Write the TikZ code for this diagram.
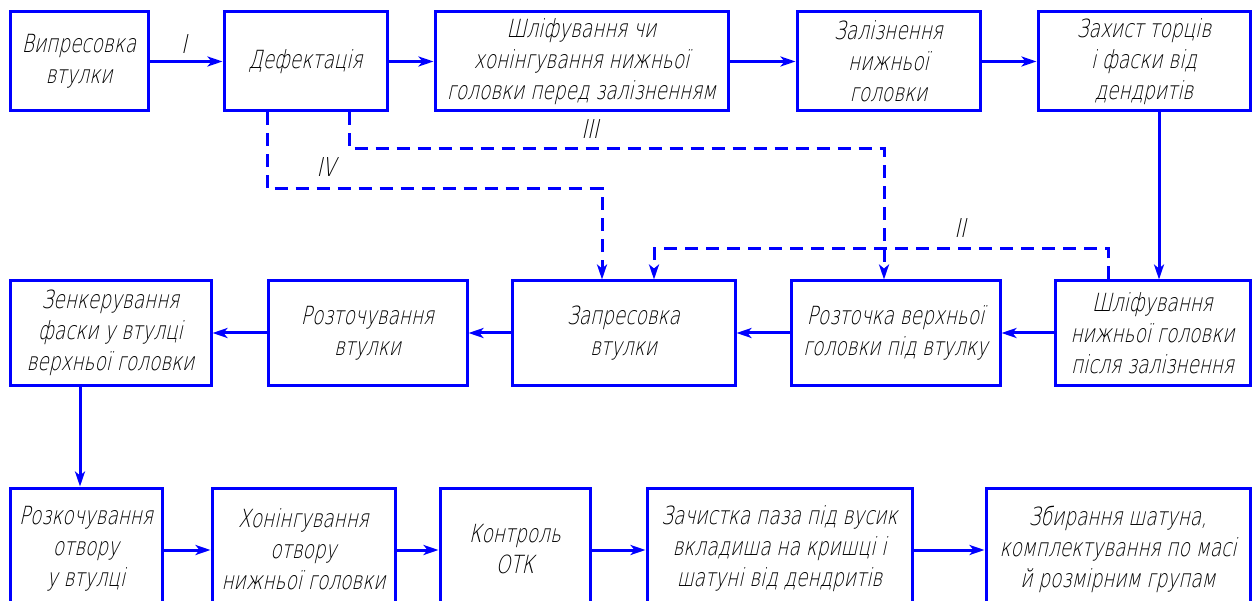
\documentclass[tikz,border=0pt]{standalone}
\usepackage{fontspec}
\setmainfont{DejaVu Sans ExtraLight}[FakeSlant=0.22,FakeStretch=0.74]
\usetikzlibrary{arrows.meta}
\definecolor{lineblue}{RGB}{0,0,255}
\tikzset{
  box/.style={draw=lineblue, line width=3pt, align=center, inner sep=0pt,
              font=\fontsize{25}{31}\selectfont, text=black},
  flow/.style={draw=lineblue, line width=3pt,
               -{Stealth[length=15pt,width=10pt,inset=4pt]}},
  alt/.style={flow, dash pattern=on 13pt off 8pt},
  num/.style={font=\fontsize{26}{28}\selectfont, text=black, inner sep=0pt}
}
\begin{document}
\begin{tikzpicture}[x=1pt,y=-1pt]
\useasboundingbox (0,0) rectangle (1255,601);
\clip (0,0) rectangle (1255,601);

% first row
\node[box, minimum width=138pt, minimum height=99pt] (A) at (79,61.5) {Випресовка\\втулки};
\node[box, minimum width=163pt, minimum height=99pt] (B) at (305.5,61.5) {Дефектація};
\node[box, minimum width=293pt, minimum height=99pt] (C) at (581.5,61.5) {Шліфування чи\\хонінгування нижньої\\головки перед залізненням};
\node[box, minimum width=183pt, minimum height=99pt] (D) at (888.5,61.5) {Залізнення\\нижньої\\головки};
\node[box, minimum width=212pt, minimum height=99pt] (E) at (1144,61.5) {Захист торців\\і фаски від\\дендритів};

% second row
\node[box, minimum width=201pt, minimum height=104pt] (F) at (110.5,333) {Зенкерування\\фаски у втулці\\верхньої головки};
\node[box, minimum width=199pt, minimum height=104pt] (G) at (367.5,333) {Розточування\\втулки};
\node[box, minimum width=223pt, minimum height=104pt] (H) at (623.5,333) {Запресовка\\втулки};
\node[box, minimum width=209pt, minimum height=104pt] (I) at (895.5,333) {Розточка верхньої\\головки під втулку};
\node[box, minimum width=195pt, minimum height=104pt] (J) at (1152.5,333) {Шліфування\\нижньої головки\\після залізнення};

% third row (runs past the lower edge)
\node[box, minimum width=152pt, minimum height=122pt] (K) at (86,549) {Розкочування\\отвору\\у втулці};
\node[box, minimum width=183pt, minimum height=122pt] (L) at (303.5,549) {Хонінгування\\отвору\\нижньої головки};
\node[box, minimum width=150pt, minimum height=122pt] (M) at (515,549) {Контроль\\ОТК};
\node[box, minimum width=265pt, minimum height=122pt] (N) at (779.5,549) {Зачистка паза під вусик\\вкладиша на кришці і\\шатуні від дендритів};
\node[box, minimum width=264pt, minimum height=122pt] (O) at (1118,549) {Збирання шатуна,\\комплектування по масі\\й розмірним групам};

% column positions of the vertical connectors
\coordinate (xa) at (80,0);
\coordinate (xb) at (267,0);
\coordinate (xc) at (349,0);
\coordinate (xd) at (602,0);
\coordinate (xe) at (654,0);
\coordinate (xf) at (884,0);
\coordinate (xg) at (1108,0);
\coordinate (xh) at (1159,0);

% main flow
\draw[flow] (A) -- (B);
\draw[flow] (B) -- (C);
\draw[flow] (C) -- (D);
\draw[flow] (D) -- (E);
\draw[flow] (E.south -| xh) -- (J.north -| xh);
\draw[flow] (J) -- (I);
\draw[flow] (I) -- (H);
\draw[flow] (H) -- (G);
\draw[flow] (G) -- (F);
\draw[flow] (F.south -| xa) -- (K.north -| xa);
\draw[flow] (K.east |- 0,550) -- (L.west |- 0,550);
\draw[flow] (L.east |- 0,550) -- (M.west |- 0,550);
\draw[flow] (M.east |- 0,550) -- (N.west |- 0,550);
\draw[flow] (N.east |- 0,550) -- (O.west |- 0,550);

% alternative routes
\draw[alt] (B.south -| xb) |- (602,189) -- (H.north -| xd);
\draw[alt] (B.south -| xc) |- (884,149) -- (I.north -| xf);
\draw[alt] (J.north -| xg) |- (654,249) -- (H.north -| xe);

% route numbers
\node[num] (r1) at (184,44) {I};
\node[num] (r2) at (960,228) {II};
\node[num] (r3) at (590,129) {III};
\node[num] (r4) at (326,167) {IV};
\end{tikzpicture}
\end{document}
